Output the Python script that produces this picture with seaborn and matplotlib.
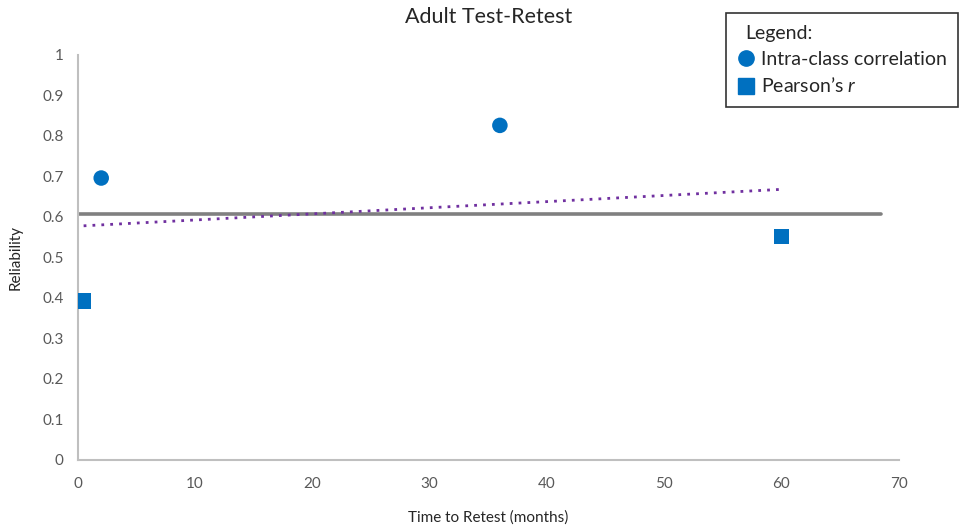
import pandas as pd
import matplotlib
matplotlib.use("Agg")
import matplotlib.pyplot as plt
import seaborn as sns
from matplotlib.lines import Line2D

# data
months = [2, 36, 0.5, 60]
reliability = [0.696, 0.826, 0.392, 0.552]
measure = ["Intra-class correlation", "Intra-class correlation", "Pearson's r", "Pearson's r"]

# gray reference line and dotted linear trend (endpoints)
ref_x = [0, 68.5]
ref_y = [0.607, 0.607]
trend_x = [0.5, 60]
trend_y = [0.578, 0.668]

xticks = [0, 10, 20, 30, 40, 50, 60, 70]
yticks = [0, 0.1, 0.2, 0.3, 0.4, 0.5, 0.6, 0.7, 0.8, 0.9, 1]

df = pd.DataFrame({"months": months, "reliability": reliability, "measure": measure})

sns.set_style("white")
plt.rcParams["font.family"] = ["Lato", "DejaVu Sans"]
plt.rcParams["mathtext.fontset"] = "custom"
plt.rcParams["mathtext.it"] = "Lato:italic"

blue = "#0070C0"
fig = plt.figure(figsize=(9.6, 5.28), dpi=100)
ax = fig.add_axes([0.081, 0.129, 0.855, 0.767])

ax.plot(ref_x, ref_y, color="#808080", lw=2.6, zorder=2)
ax.plot(trend_x, trend_y, color="#7030A0", lw=2, linestyle=(0, (1, 2.2)), zorder=2)

sns.scatterplot(data=df, x="months", y="reliability", style="measure",
                markers={"Intra-class correlation": "o", "Pearson's r": "s"},
                s=125, color=blue, edgecolor=blue, linewidth=0,
                legend=False, ax=ax, zorder=3)

ax.set_xlim(0, 70)
ax.set_ylim(0, 1)
ax.set_xticks(xticks)
ax.set_xticklabels([str(t) for t in xticks])
ax.set_yticks(yticks)
ax.set_yticklabels(["0", "0.1", "0.2", "0.3", "0.4", "0.5", "0.6", "0.7", "0.8", "0.9", "1"])
ax.tick_params(axis="both", length=0, labelsize=11, labelcolor="#595959")
ax.tick_params(axis="y", pad=10)
ax.tick_params(axis="x", pad=12)

for side in ["top", "right"]:
    ax.spines[side].set_visible(False)
for side in ["left", "bottom"]:
    ax.spines[side].set_color("#bfbfbf")
    ax.spines[side].set_linewidth(1.5)

ax.set_xlabel("Time to Retest (months)", fontsize=11, labelpad=14)
ax.set_ylabel("Reliability", fontsize=11, labelpad=14)
ax.set_title("Adult Test-Retest", fontsize=15.5, pad=23)

handles = [
    Line2D([], [], marker="o", linestyle="none", color=blue, markersize=11),
    Line2D([], [], marker="s", linestyle="none", color=blue, markersize=11),
]
leg = fig.legend(handles, ["Intra-class correlation", "Pearson\u2019s $\\it{r}$"],
                 title="Legend:", alignment="left", loc="upper right",
                 bbox_to_anchor=(0.998, 0.975), fontsize=14, title_fontsize=14,
                 frameon=True, fancybox=False, edgecolor="black",
                 handletextpad=0.3, handlelength=0.9, borderpad=0.6,
                 borderaxespad=0, labelspacing=0.45)
leg.get_frame().set_linewidth(1.2)
leg.get_title().set_position((8, 0))

fig.savefig("out.png", dpi=100)
